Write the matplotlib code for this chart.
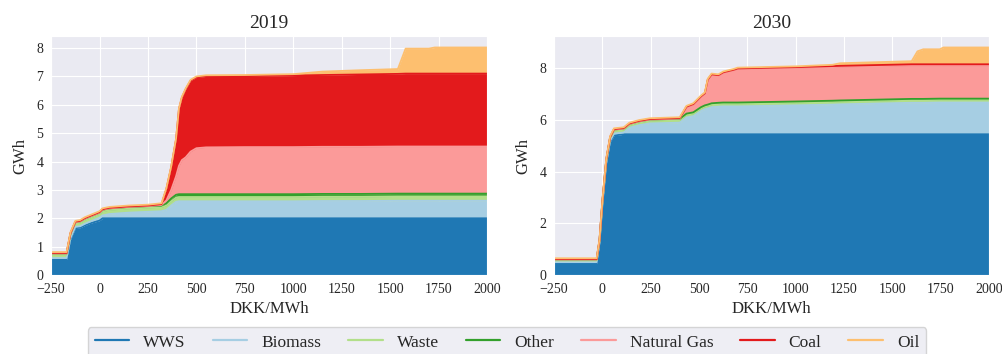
import numpy as np
import matplotlib
matplotlib.use("Agg")
import matplotlib.pyplot as plt
import seaborn as sns

sns.set_style("darkgrid")
plt.rcParams['font.family'] = ['Liberation Serif', 'DejaVu Serif']
plt.rcParams['mathtext.fontset'] = 'dejavuserif'

techs = ["WWS", "Biomass", "Waste", "Other", "Natural Gas", "Coal", "Oil"]
colors = ["#1f78b4", "#a6cee3", "#b2df8a", "#33a02c", "#fb9a99", "#e31a1c", "#fdbf6f"]

# supply curve 2019 (GWh per layer vs. price in DKK/MWh)
price_2019 = [-250, -170, -150, -125, -100, -75, -50, -25, 0, 15, 50, 150, 250, 320,
              345, 370, 395, 410, 425, 445, 470, 500, 550, 750, 1000, 1150, 1350,
              1540, 1580, 1700, 1730, 2000]
wws_2019 = [0.55, 0.55, 1.25, 1.65, 1.67, 1.75, 1.82, 1.87, 1.92, 2.0, 2.0, 2.0, 2.0, 2.0,
            2.0, 2.0, 2.0, 2.0, 2.0, 2.0, 2.0, 2.0, 2.0, 2.0, 2.0, 2.0, 2.0,
            2.0, 2.0, 2.0, 2.0, 2.0]
bio_2019 = [0.05, 0.05, 0.05, 0.05, 0.05, 0.06, 0.06, 0.08, 0.1, 0.1, 0.15, 0.2, 0.23, 0.25,
            0.3, 0.45, 0.58, 0.6, 0.6, 0.6, 0.6, 0.6, 0.6, 0.6, 0.6, 0.61, 0.61,
            0.62, 0.62, 0.62, 0.62, 0.62]
waste_2019 = [0.12, 0.12, 0.12, 0.12, 0.12, 0.13, 0.13, 0.13, 0.13, 0.14, 0.14, 0.14, 0.14, 0.14,
              0.15, 0.15, 0.15, 0.15, 0.15, 0.15, 0.15, 0.15, 0.15, 0.15, 0.15, 0.15, 0.15,
              0.15, 0.15, 0.15, 0.15, 0.15]
other_2019 = [0.04, 0.04, 0.04, 0.04, 0.05, 0.05, 0.05, 0.05, 0.05, 0.06, 0.06, 0.06, 0.06, 0.06,
              0.08, 0.1, 0.1, 0.1, 0.1, 0.1, 0.1, 0.1, 0.1, 0.1, 0.1, 0.1, 0.1,
              0.1, 0.1, 0.1, 0.1, 0.1]
gas_2019 = [0.0, 0.0, 0.0, 0.0, 0.0, 0.0, 0.0, 0.0, 0.0, 0.0, 0.0, 0.0, 0.0, 0.02,
            0.1, 0.3, 0.65, 1.0, 1.2, 1.3, 1.5, 1.62, 1.65, 1.66, 1.66, 1.66, 1.66,
            1.66, 1.66, 1.66, 1.66, 1.66]
coal_2019 = [0.02, 0.02, 0.02, 0.02, 0.02, 0.02, 0.02, 0.02, 0.02, 0.02, 0.02, 0.02, 0.02, 0.03,
             0.4, 0.8, 1.3, 2.0, 2.2, 2.4, 2.5, 2.5, 2.5, 2.5, 2.52, 2.53, 2.55,
             2.56, 2.57, 2.57, 2.57, 2.57]
oil_2019 = [0.03, 0.03, 0.03, 0.03, 0.03, 0.03, 0.03, 0.03, 0.03, 0.03, 0.03, 0.03, 0.03, 0.03,
            0.03, 0.03, 0.03, 0.03, 0.03, 0.03, 0.03, 0.03, 0.04, 0.04, 0.05, 0.12, 0.15,
            0.17, 0.88, 0.88, 0.92, 0.92]

# supply curve 2030
price_2030 = [-250, -30, -15, 0, 20, 40, 60, 110, 140, 190, 245, 400, 435, 470, 510, 530,
              545, 565, 600, 625, 680, 700, 1000, 1190, 1230, 1600, 1630, 1660, 1745,
              1765, 2000]
wws_2030 = [0.45, 0.45, 1.2, 2.7, 4.3, 5.15, 5.4, 5.45, 5.45, 5.45, 5.45, 5.45, 5.45, 5.45,
            5.45, 5.45, 5.45, 5.45, 5.45, 5.45, 5.45, 5.45, 5.45, 5.45, 5.45, 5.45, 5.45,
            5.45, 5.45, 5.45, 5.45]
bio_2030 = [0.05, 0.05, 0.05, 0.05, 0.05, 0.05, 0.08, 0.07, 0.25, 0.35, 0.42, 0.45, 0.65,
            0.7, 0.9, 0.97, 1.0, 1.05, 1.07, 1.08, 1.08, 1.08, 1.12, 1.15, 1.16, 1.22, 1.22,
            1.22, 1.23, 1.23, 1.23]
waste_2030 = [0.07, 0.07, 0.07, 0.08, 0.08, 0.09, 0.1, 0.1, 0.1, 0.1, 0.1, 0.1, 0.1, 0.1,
              0.1, 0.1, 0.1, 0.1, 0.1, 0.1, 0.1, 0.1, 0.1, 0.1, 0.1, 0.1, 0.1, 0.1, 0.1,
              0.1, 0.1]
other_2030 = [0.03, 0.03, 0.03, 0.03, 0.04, 0.04, 0.05, 0.05, 0.05, 0.05, 0.05, 0.05, 0.05,
              0.05, 0.05, 0.05, 0.05, 0.05, 0.05, 0.05, 0.05, 0.05, 0.05, 0.05, 0.05, 0.05,
              0.05, 0.05, 0.05, 0.05, 0.05]
gas_2030 = [0.0, 0.0, 0.0, 0.0, 0.0, 0.0, 0.0, 0.0, 0.0, 0.0, 0.0, 0.01, 0.25, 0.3, 0.4,
            0.45, 0.95, 1.1, 1.05, 1.15, 1.25, 1.3, 1.3, 1.3, 1.3, 1.29, 1.29, 1.29, 1.28,
            1.28, 1.28]
coal_2030 = [0.02, 0.02, 0.02, 0.02, 0.02, 0.02, 0.02, 0.02, 0.02, 0.02, 0.02, 0.02, 0.02,
             0.02, 0.02, 0.02, 0.02, 0.02, 0.02, 0.02, 0.02, 0.02, 0.03, 0.04, 0.04, 0.05,
             0.05, 0.05, 0.05, 0.05, 0.05]
oil_2030 = [0.03, 0.03, 0.03, 0.03, 0.03, 0.03, 0.03, 0.03, 0.03, 0.03, 0.03, 0.03, 0.03,
            0.03, 0.03, 0.03, 0.03, 0.03, 0.03, 0.03, 0.03, 0.03, 0.03, 0.05, 0.1, 0.12,
            0.5, 0.58, 0.58, 0.65, 0.65]

panels = [
    ("2019", price_2019, [wws_2019, bio_2019, waste_2019, other_2019, gas_2019, coal_2019, oil_2019]),
    ("2030", price_2030, [wws_2030, bio_2030, waste_2030, other_2030, gas_2030, coal_2030, oil_2030]),
]

fig = plt.figure(figsize=(10.02, 3.54), dpi=100)
ax1 = fig.add_axes([0.051, 0.223, 0.435, 0.675])
ax2 = fig.add_axes([0.553, 0.223, 0.434, 0.675])

for ax, (title, price, layers) in zip([ax1, ax2], panels):
    x = np.array(price, dtype=float)
    data = np.array(layers)
    tops = np.cumsum(data, axis=0)
    ax.stackplot(x, data, colors=colors, linewidth=0)
    lines = []
    for top, c, name in zip(tops, colors, techs):
        ln, = ax.plot(x, top, color=c, lw=1.3, label=name)
        lines.append(ln)
    ax.set_xlim(-250, 2000)
    ax.set_ylim(0, tops[-1].max() * 1.05)
    ax.set_xticks([-250, 0, 250, 500, 750, 1000, 1250, 1500, 1750, 2000])
    ax.set_title(title, fontsize=14)
    ax.set_xlabel("DKK/MWh", fontsize=12)
    ax.set_ylabel("GWh", fontsize=12, labelpad=6)
    ax.tick_params(labelsize=10, pad=2)

ax1.set_yticks(range(0, 9))
ax2.set_yticks([0, 2, 4, 6, 8])

# thicker handles in the legend than on the curves
for ln in lines:
    ln.set_linewidth(1.6)
fig.legend(lines, techs, loc="upper center", bbox_to_anchor=(0.506, 0.075), ncol=7,
           fontsize=12.5, handlelength=2.0, handletextpad=0.8, columnspacing=1.55,
           borderaxespad=0, frameon=True)
for ln in lines:
    ln.set_linewidth(1.3)

fig.savefig("out.png", dpi=100)
